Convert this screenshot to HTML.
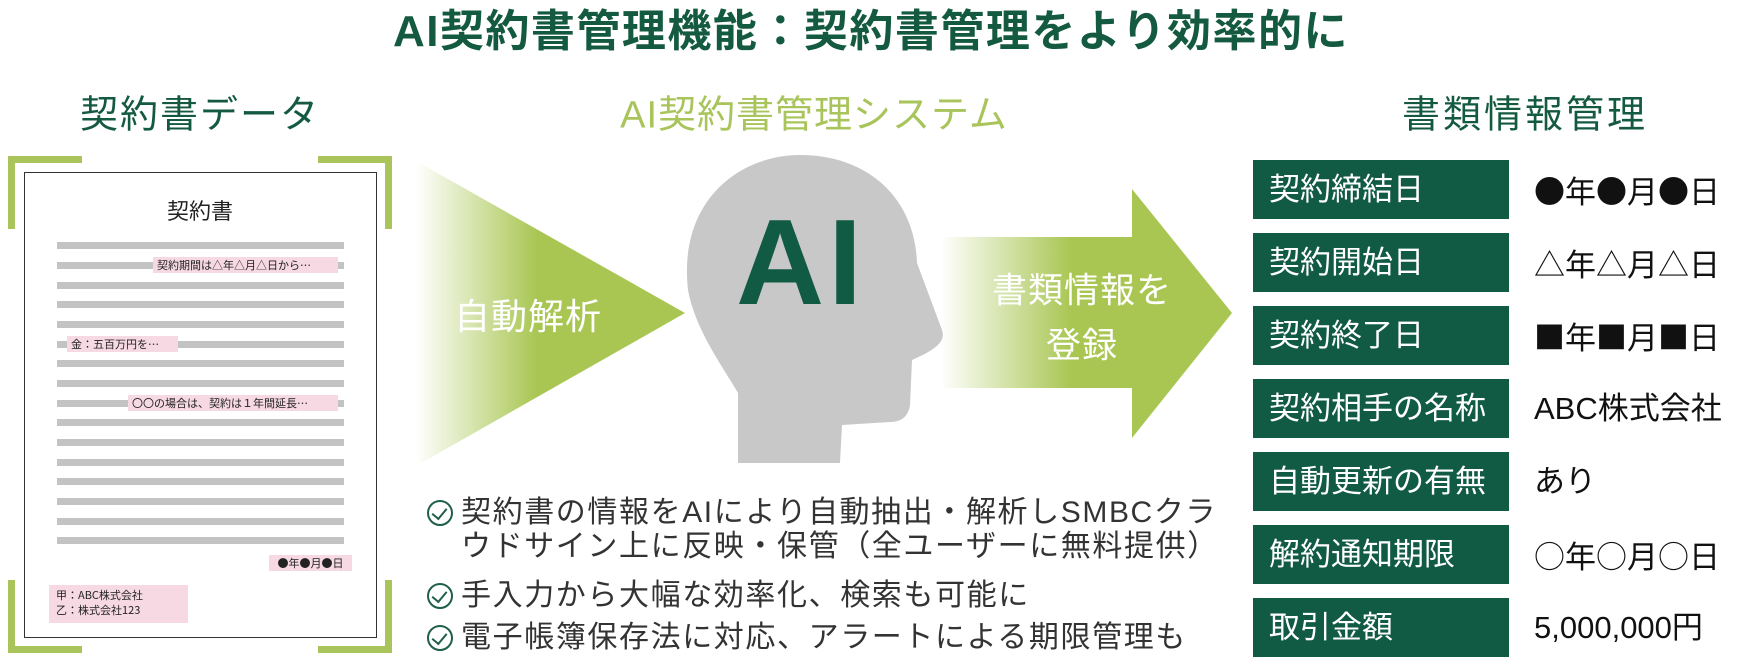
<!DOCTYPE html>
<html><head><meta charset="utf-8">
<style>
*{margin:0;padding:0;box-sizing:border-box}
body{width:1740px;height:667px;background:#fff;position:relative;overflow:hidden;font-family:"Liberation Sans","Noto Sans CJK JP",sans-serif}
.a{position:absolute;white-space:nowrap}
.c{transform:translate(-50%,-50%)}
.gl{position:absolute;left:57px;width:287px;height:7px;background:#c3c3c3}
.pk{position:absolute;background:#f6d9e3;font-size:11px;color:#222;line-height:16px;padding:0 4px;font-family:"Noto Sans CJK JP",sans-serif}
.lab{position:absolute;left:1253px;width:256px;height:59px;background:#115a43;color:#fff;font-size:31px;line-height:59px;padding-left:16px}
.val{position:absolute;left:1534px;font-size:31px;line-height:59px;color:#111}
.sym{font-family:"Noto Sans CJK JP",sans-serif}
.bul{position:absolute;left:461px;font-size:30px;color:#333;line-height:34px;letter-spacing:1.6px}
.chk{position:absolute;left:427px;width:26px;height:26px;border:2.5px solid #1f5f47;border-radius:50%}
.chk:after{content:"";position:absolute;left:6px;top:3px;width:7px;height:12px;border-right:2.5px solid #1f5f47;border-bottom:2.5px solid #1f5f47;transform:rotate(40deg)}
</style></head><body>
<div class="a c" style="left:871px;top:27px;font-size:44px;font-weight:bold;color:#145a40;letter-spacing:1.5px">AI契約書管理機能：契約書管理をより効率的に</div>
<div class="a c" style="left:200px;top:111px;font-size:38px;color:#145a40;letter-spacing:2px">契約書データ</div>
<div class="a c" style="left:814px;top:111px;font-size:38px;color:#a8c45a;letter-spacing:1px">AI契約書管理システム</div>
<div class="a c" style="left:1525px;top:111px;font-size:38px;color:#145a40;letter-spacing:3px">書類情報管理</div>

<div class="a" style="left:8px;top:156px;width:74px;height:7px;background:#a8c45a"></div>
<div class="a" style="left:8px;top:156px;width:7px;height:73px;background:#a8c45a"></div>
<div class="a" style="left:318px;top:156px;width:74px;height:7px;background:#a8c45a"></div>
<div class="a" style="left:385px;top:156px;width:7px;height:73px;background:#a8c45a"></div>
<div class="a" style="left:8px;top:646px;width:74px;height:7px;background:#a8c45a"></div>
<div class="a" style="left:8px;top:580px;width:7px;height:73px;background:#a8c45a"></div>
<div class="a" style="left:318px;top:646px;width:74px;height:7px;background:#a8c45a"></div>
<div class="a" style="left:385px;top:580px;width:7px;height:73px;background:#a8c45a"></div>
<div class="a" style="left:24px;top:172px;width:353px;height:466px;border:1.5px solid #333;background:#fff"></div>
<div class="a c" style="left:200px;top:210px;font-size:22px;color:#222">契約書</div>
<div class="gl" style="top:242px"></div><div class="gl" style="top:262px"></div><div class="gl" style="top:282px"></div><div class="gl" style="top:301px"></div><div class="gl" style="top:321px"></div><div class="gl" style="top:341px"></div><div class="gl" style="top:360px"></div><div class="gl" style="top:380px"></div><div class="gl" style="top:400px"></div><div class="gl" style="top:419px"></div><div class="gl" style="top:439px"></div><div class="gl" style="top:459px"></div><div class="gl" style="top:478px"></div><div class="gl" style="top:498px"></div><div class="gl" style="top:518px"></div><div class="gl" style="top:537px"></div>
<div class="pk" style="left:153px;top:257px;width:185px">契約期間は△年△月△日から…</div>
<div class="pk" style="left:67px;top:336px;width:111px">金：五百万円を…</div>
<div class="pk" style="left:128px;top:395px;width:210px">〇〇の場合は、契約は１年間延長…</div>
<div class="pk" style="left:269px;top:555px;width:83px;text-align:center">●年●月●日</div>
<div class="pk" style="left:49px;top:585px;width:139px;height:38px;padding:3px 7px;line-height:15px">甲：ABC株式会社<br>乙：株式会社123</div>

<svg class="a" style="left:0;top:0" width="1740" height="667">
<defs>
<linearGradient id="g1" x1="0" x2="1" y1="0" y2="0"><stop offset="0" stop-color="#fff"/><stop offset="0.45" stop-color="#a9c653"/><stop offset="1" stop-color="#a9c653"/></linearGradient>
<linearGradient id="g2" x1="940" x2="1232" y1="0" y2="0" gradientUnits="userSpaceOnUse"><stop offset="0" stop-color="#fff"/><stop offset="0.45" stop-color="#a9c653"/><stop offset="1" stop-color="#a9c653"/></linearGradient>
</defs>
<polygon points="416,161 685,313 416,466" fill="url(#g1)"/>
<polygon points="940,237 1132,237 1132,189 1232,313 1132,438 1132,388 940,388" fill="url(#g2)"/>
<path d="M738,463 L738,393 C725,370 695,330 688,290 C678,200 740,155 800,155 C870,155 915,200 917,263 L942,330 C946,342 935,350 912,360 L910,405 C908,418 900,422 890,422 L842,425 L840,463 Z" fill="#c8c8c8"/>
</svg>
<div class="a c" style="left:528px;top:314px;font-size:36px;color:#fff;letter-spacing:1px">自動解析</div>
<div class="a c" style="left:801px;top:262px;font-size:122px;font-weight:bold;color:#115a43;letter-spacing:4px">AI</div>
<div class="a c" style="left:1082px;top:288px;font-size:35px;color:#fff;letter-spacing:1px">書類情報を</div>
<div class="a c" style="left:1082px;top:343px;font-size:35px;color:#fff;letter-spacing:1px">登録</div>

<div class="chk" style="top:500px"></div>
<div class="bul" style="top:496px">契約書の情報をAIにより自動抽出・解析しSMBCクラ<br>ウドサイン上に反映・保管（全ユーザーに無料提供）</div>
<div class="chk" style="top:583px"></div>
<div class="bul" style="top:579px">手入力から大幅な効率化、検索も可能に</div>
<div class="chk" style="top:625px"></div>
<div class="bul" style="top:621px">電子帳簿保存法に対応、アラートによる期限管理も</div>

<div class="lab" style="top:160px">契約締結日</div><div class="val sym" style="top:160px">●年●月●日</div>
<div class="lab" style="top:233px">契約開始日</div><div class="val sym" style="top:233px">△年△月△日</div>
<div class="lab" style="top:306px">契約終了日</div><div class="val sym" style="top:306px">■年■月■日</div>
<div class="lab" style="top:379px">契約相手の名称</div><div class="val" style="top:379px">ABC株式会社</div>
<div class="lab" style="top:452px">自動更新の有無</div><div class="val" style="top:452px">あり</div>
<div class="lab" style="top:525px">解約通知期限</div><div class="val sym" style="top:525px">○年○月○日</div>
<div class="lab" style="top:598px">取引金額</div><div class="val" style="top:598px">5,000,000円</div>
</body></html>
